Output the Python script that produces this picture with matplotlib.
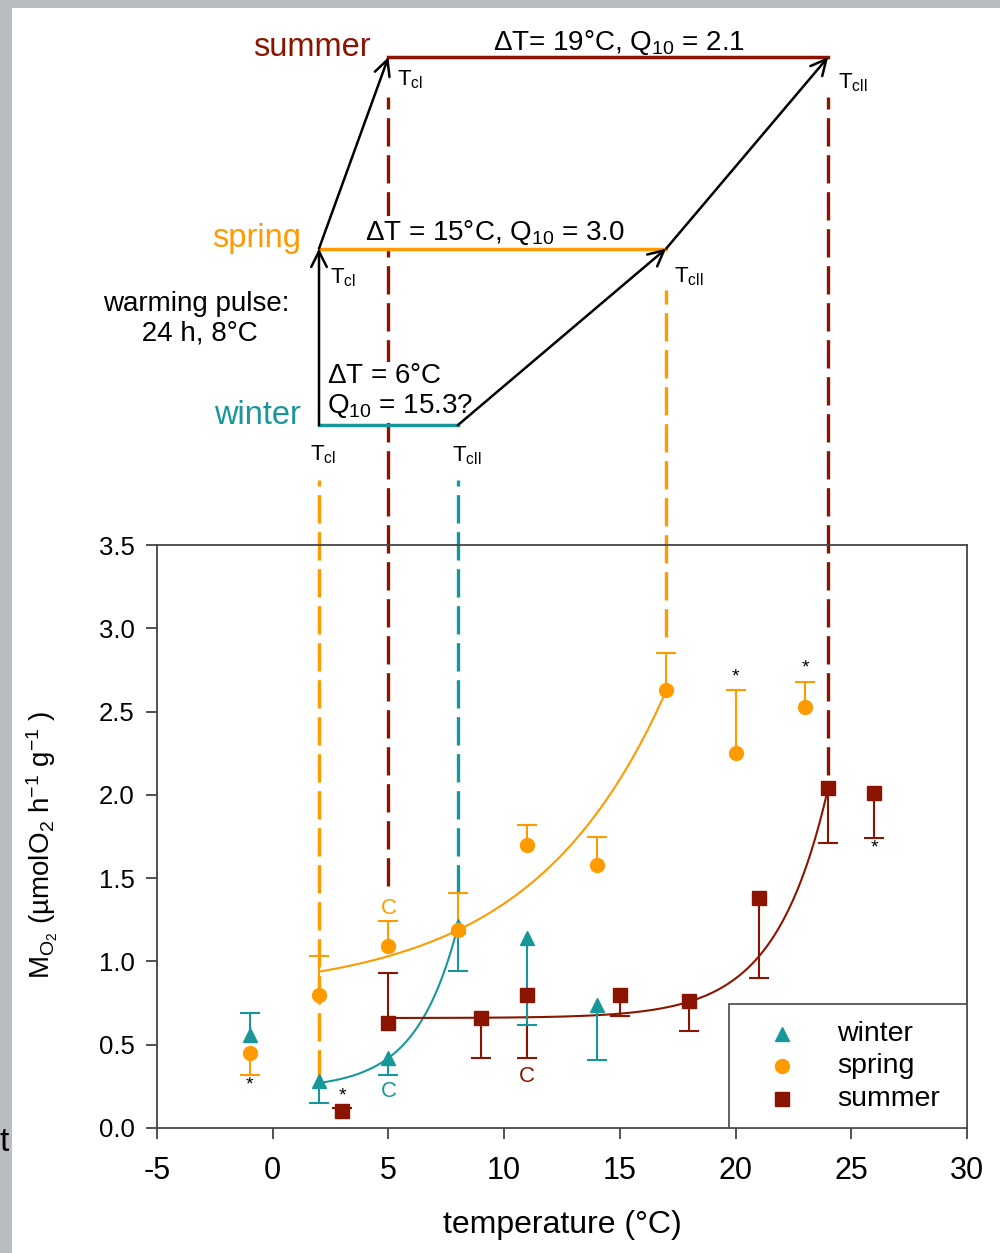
import numpy as np
import matplotlib
matplotlib.use('Agg')
import matplotlib.pyplot as plt
from matplotlib.patches import Rectangle

plt.rcParams['font.family'] = ['Liberation Sans', 'DejaVu Sans']
plt.rcParams['mathtext.fontset'] = 'custom'
plt.rcParams['mathtext.rm'] = 'Liberation Sans'
plt.rcParams['mathtext.it'] = 'Liberation Sans:italic'
plt.rcParams['mathtext.default'] = 'regular'

# colours
c_winter = '#18979a'
c_spring = '#ff9a00'
c_summer = '#8b1400'

# measured values (point, end of one-sided error bar)
winter_x = [-1, 2, 5, 8, 11, 14]
winter_y = [0.56, 0.28, 0.42, 1.21, 1.14, 0.74]
winter_err = [0.69, 0.15, 0.32, 0.94, 0.62, 0.41]

spring_x = [-1, 2, 5, 8, 11, 14, 17, 20, 23]
spring_y = [0.45, 0.80, 1.09, 1.19, 1.70, 1.58, 2.63, 2.25, 2.53]
spring_err = [0.32, 1.03, 1.24, 1.41, 1.82, 1.75, 2.85, 2.63, 2.68]

summer_x = [3, 5, 9, 11, 15, 18, 21, 24, 26]
summer_y = [0.10, 0.63, 0.66, 0.80, 0.80, 0.76, 1.38, 2.04, 2.01]
summer_err = [0.12, 0.93, 0.42, 0.42, 0.67, 0.58, 0.90, 1.71, 1.74]

# exponential fits y = a + b*exp(k*x), with x range
fit_winter = (0.235, 0.0116, 0.554, 2, 8)
fit_spring = (0.80, 0.098, 0.172, 2, 17)
fit_summer = (0.66, 3.58e-5, 0.44, 5, 24)

# significance / comparison marks
star_x = [-1, 3, 20, 23, 26]
star_y = [0.26, 0.19, 2.71, 2.76, 1.68]
c_x = [5, 5, 11]
c_y = [1.32, 0.22, 0.31]
c_col = [c_spring, c_winter, c_summer]

# schematic: seasonal level, T_cI, T_cII
seasons = ['winter', 'spring', 'summer']
season_col = [c_winter, c_spring, c_summer]
level = [4.22, 5.28, 6.43]
tcI = [2, 2, 5]
tcII = [8, 17, 24]
dT_text = ['$\\Delta$T = 6°C\nQ$_{10}$ = 15.3?', '$\\Delta$T = 15°C, Q$_{10}$ = 3.0',
           '$\\Delta$T= 19°C, Q$_{10}$ = 2.1']

# dashed drop lines
drop_x = [2, 5, 8, 17, 24]
drop_top = [3.89, 6.19, 3.89, 5.03, 6.19]
drop_bot = [0.30, 1.45, 1.41, 2.95, 2.12]
drop_col = [c_spring, c_summer, c_winter, c_spring, c_summer]

xticks = list(range(-5, 31, 5))
yticks = [0.0, 0.5, 1.0, 1.5, 2.0, 2.5, 3.0, 3.5]

fig = plt.figure(figsize=(10, 12.53), dpi=100, facecolor='#b9bdc1')
fig.patches.append(Rectangle((0.012, 0), 0.988, 0.9936, transform=fig.transFigure,
                             facecolor='white', edgecolor='none', zorder=-5))
fig.text(0.0, 0.088, 't', fontsize=24, ha='left', va='center')

ax = fig.add_axes([0.157, 0.0998, 0.81, 0.4652])
ax.set_zorder(2)
ax.set_xlim(-5, 30)
ax.set_ylim(0, 3.5)

# drop lines
for x, t, b, c in zip(drop_x, drop_top, drop_bot, drop_col):
    ax.plot([x, x], [b, t], color=c, lw=2.4, dashes=(8.5, 2.6), clip_on=False, zorder=2)

# fits
for (a, b, k, x0, x1), c in zip([fit_winter, fit_spring, fit_summer], season_col):
    xx = np.linspace(x0, x1, 200)
    ax.plot(xx, a + b * np.exp(k * xx), color=c, lw=1.5, zorder=3)

# points with one-sided error bars
for xs, ys, es, c, m in [(summer_x, summer_y, summer_err, c_summer, 's'),
                         (winter_x, winter_y, winter_err, c_winter, '^'),
                         (spring_x, spring_y, spring_err, c_spring, 'o')]:
    ax.vlines(xs, ys, es, color=c, lw=1.5, zorder=4)
    ax.plot(xs, es, ls='none', marker='_', ms=15, mew=1.5, color=c, zorder=4)
    ax.plot(xs, ys, ls='none', marker=m, ms=10, color=c, zorder=5)

for x, y in zip(star_x, star_y):
    ax.text(x, y, '*', fontsize=14, ha='center', va='center')
for x, y, c in zip(c_x, c_y, c_col):
    ax.text(x, y, 'C', fontsize=16, ha='center', va='center', color=c)

# schematic above the axes
for s, c, lv, a, b in zip(seasons, season_col, level, tcI, tcII):
    ax.plot([a, b], [lv, lv], color=c, lw=2.5, clip_on=False, zorder=5)
    ax.text(a - 0.78, lv + 0.06, s, color=c, fontsize=23.5, ha='right', va='center')
arrow = dict(arrowstyle='->', color='black', lw=1.8, mutation_scale=28, shrinkA=0, shrinkB=0)
for i in range(2):
    ax.annotate('', xy=(tcI[i + 1], level[i + 1]), xytext=(tcI[i], level[i]),
                arrowprops=arrow, annotation_clip=False, zorder=5)
    ax.annotate('', xy=(tcII[i + 1], level[i + 1]), xytext=(tcII[i], level[i]),
                arrowprops=arrow, annotation_clip=False, zorder=5)

box = dict(facecolor='white', edgecolor='none', pad=2)
ax.text(2.35, 4.29, dT_text[0], fontsize=20, ha='left', va='baseline', linespacing=1.15,
        bbox=box, zorder=4)
ax.text(3.99, 5.33, dT_text[1], fontsize=20, ha='left', va='baseline', bbox=box, zorder=4)
ax.text(9.5, 6.47, dT_text[2], fontsize=20, ha='left', va='baseline')
ax.text(-3.3, 4.86, 'warming pulse:\n 24 h, 8°C', fontsize=20, ha='center', va='center',
        linespacing=1.15)

tcl_pos = [(1.61, 4.01), (2.48, 5.07), (5.37, 6.26)]
tcll_pos = [(7.75, 4.0), (17.34, 5.08), (24.43, 6.24)]
for (x, y) in tcl_pos:
    ax.text(x, y, 'T$_{\\mathrm{cl}}$', fontsize=16, ha='left', va='baseline')
for (x, y) in tcll_pos:
    ax.text(x, y, 'T$_{\\mathrm{cll}}$', fontsize=16, ha='left', va='baseline')

# axes styling
ax.set_xticks(xticks)
ax.set_xticklabels([str(v) for v in xticks])
ax.set_yticks(yticks)
ax.set_yticklabels([f'{v:.1f}' for v in yticks])
ax.tick_params(axis='x', labelsize=22, length=8, width=1.3, color='#444444', pad=12)
ax.tick_params(axis='y', labelsize=18.5, length=8, width=1.3, color='#444444', pad=8)
for sp in ax.spines.values():
    sp.set_color('#444444')
    sp.set_linewidth(1.3)
ax.set_xlabel('temperature (°C)', fontsize=23)
ax.xaxis.set_label_coords(0.501, -0.14)
ax.set_ylabel('M$_{O_2}$ (µmolO$_2$ h$^{-1}$ g$^{-1}$ )', fontsize=20)
ax.yaxis.set_label_coords(-0.12, 0.485)

# legend box
ax.add_patch(Rectangle((0.706, 0), 0.294, 0.2127, transform=ax.transAxes,
                       facecolor='white', edgecolor='#555555', lw=1.3, zorder=6))
for s, c, m, yy in zip(seasons, season_col, ['^', 'o', 's'], [0.162, 0.106, 0.050]):
    ax.plot([0.772], [yy], marker=m, ms=10, color=c, transform=ax.transAxes,
            zorder=7, clip_on=False)
    ax.text(0.84, yy, s, fontsize=20.5, ha='left', va='center', transform=ax.transAxes, zorder=7)

fig.savefig('out.png', dpi=100, facecolor=fig.get_facecolor())
